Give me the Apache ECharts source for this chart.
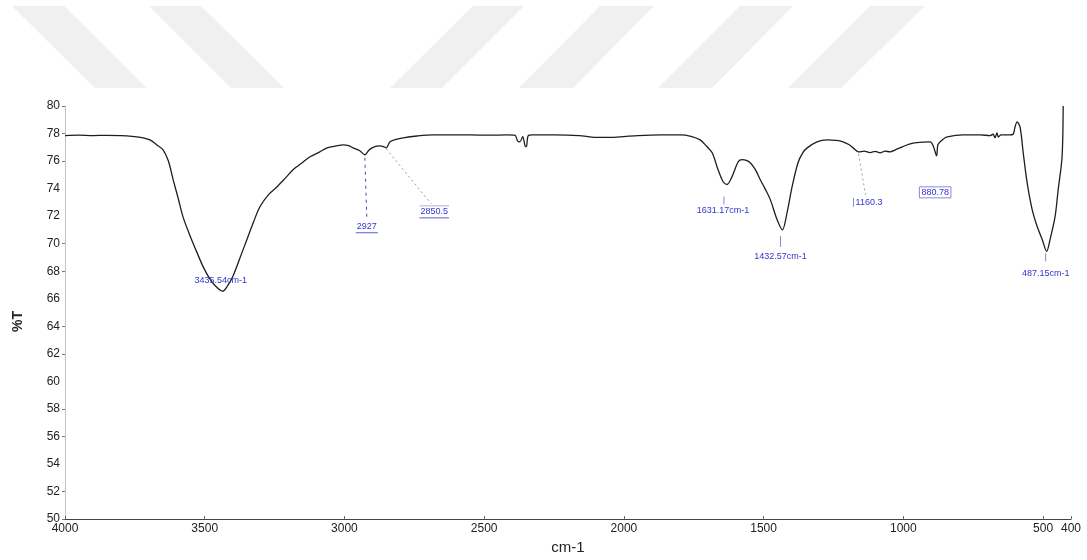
<!DOCTYPE html>
<html>
<head>
<meta charset="utf-8">
<script src="https://cdn.jsdelivr.net/npm/echarts@6/dist/echarts.min.js"></script>
<style>
  html, body { margin: 0; padding: 0; background: #fff; }
  #chart { width: 1087px; height: 560px; }
</style>
</head>
<body>
<div id="chart"></div>
<script>
// FT-IR spectrum: wavenumber (cm-1) vs transmittance (%T)
const wavenumbers = [
  4000, 3950, 3900, 3850, 3800, 3760, 3730, 3696, 3670, 3649, 3630, 3613, 3595, 3578, 3553,
  3528, 3505, 3481, 3458, 3435.54, 3418, 3399, 3375, 3349, 3325, 3302, 3270, 3241, 3210, 3184,
  3150, 3123, 3090, 3062, 3030, 3005, 2985, 2969, 2945, 2927, 2912, 2901, 2885, 2873, 2860,
  2850.5, 2837, 2815, 2790, 2740, 2683, 2600, 2550, 2480, 2420, 2390, 2380, 2372, 2362, 2352,
  2348, 2343, 2329, 2250, 2160, 2100, 2050, 2000, 1950, 1870, 1799, 1760, 1727, 1705, 1684,
  1663, 1645, 1631.17, 1613, 1591, 1577, 1562, 1548, 1530, 1512, 1495, 1476, 1452, 1432.57, 1416,
  1398, 1377, 1360, 1344, 1309, 1273, 1240, 1216, 1195, 1180, 1160.3, 1140, 1119, 1100, 1083,
  1065, 1047, 1030, 1012, 990, 965, 930, 904, 893, 880.78, 876, 860, 843, 786, 725,
  690, 679, 672, 665, 660, 650, 620, 607, 600, 593, 582, 571, 557, 539, 521,
  503, 487.15, 475, 457, 446, 432, 428
];
const transmittance = [
  77.85, 77.88, 77.85, 77.87, 77.85, 77.8, 77.72, 77.54, 77.15, 76.82, 76.0, 74.65, 73.3, 71.97, 70.6,
  69.37, 68.3, 67.42, 66.85, 66.55, 66.95, 67.64, 68.9, 70.31, 71.6, 72.7, 73.6, 74.14, 74.8, 75.37,
  75.9, 76.31, 76.65, 76.96, 77.1, 77.18, 77.12, 76.96, 76.75, 76.46, 76.8, 76.96, 77.08, 77.1, 77.05,
  76.96, 77.4, 77.58, 77.69, 77.82, 77.9, 77.9, 77.9, 77.88, 77.9, 77.88, 77.45, 77.4, 77.78, 77.05,
  77.1, 77.82, 77.9, 77.9, 77.85, 77.72, 77.72, 77.78, 77.85, 77.9, 77.9, 77.8, 77.54, 77.1, 76.6,
  75.37, 74.5, 74.3, 74.87, 75.95, 76.1, 76.05, 75.88, 75.4, 74.65, 74.0, 73.2, 71.76, 71.0, 72.26,
  74.14, 75.88, 76.6, 76.96, 77.4, 77.54, 77.5, 77.4, 77.2, 76.96, 76.67, 76.72, 76.62, 76.7, 76.6,
  76.72, 76.67, 76.8, 76.96, 77.15, 77.3, 77.38, 77.4, 77.1, 76.38, 77.2, 77.55, 77.75, 77.9, 77.9,
  77.85, 77.95, 77.7, 78.05, 77.75, 77.9, 77.9, 77.95, 78.5, 78.85, 78.45, 76.6, 74.43, 72.48, 71.25,
  70.31, 69.44, 70.3, 71.96, 73.9, 76.3, 80
];

// axis ticks
const xTickValues = [4000, 3500, 3000, 2500, 2000, 1500, 1000, 500, 400];
const yTickMarks = [50, 52, 56, 58, 62, 64, 68, 70, 76, 78, 80];

// labelled bands
const peakWavenumbers = [3435.54, 2927, 2850.5, 1631.17, 1432.57, 1160.3, 880.78, 487.15];
const peakLabels = ['3435.54cm-1', '2927', '2850.5', '1631.17cm-1', '1432.57cm-1', '1160.3', '880.78', '487.15cm-1'];

const spectrum = wavenumbers.map((w, i) => [w, transmittance[i]]);

const chart = echarts.init(document.getElementById('chart'), null, { renderer: 'canvas' });

const FONT = 'Liberation Sans, Arial, sans-serif';

chart.setOption({
  animation: false,
  backgroundColor: '#ffffff',
  grid: { left: 65, right: 16, top: 106, bottom: 39, containLabel: false },
  xAxis: {
    type: 'value',
    min: 400,
    max: 4000,
    inverse: true,
    name: 'cm-1',
    nameLocation: 'middle',
    nameGap: 19,
    nameTextStyle: { fontFamily: FONT, fontSize: 15, color: '#222' },
    axisLine: { lineStyle: { color: '#444', width: 1 } },
    axisTick: { inside: true, length: 3, lineStyle: { color: '#666' }, customValues: xTickValues },
    axisLabel: {
      fontFamily: FONT, fontSize: 12, color: '#222', margin: 4,
      customValues: xTickValues,
      formatter: v => String(v)
    },
    splitLine: { show: false }
  },
  yAxis: {
    type: 'value',
    min: 50,
    max: 80,
    interval: 2,
    name: '%T',
    nameLocation: 'middle',
    nameRotate: 90,
    nameGap: 40,
    nameTextStyle: {
      fontFamily: FONT, fontSize: 14, fontWeight: 'bold', color: '#222',
      padding: [0, 18, 0, 0]
    },
    axisLine: { show: true, lineStyle: { color: '#c4c4c4', width: 1 } },
    axisTick: { show: true, length: 3, lineStyle: { color: '#777' }, customValues: yTickMarks },
    axisLabel: { fontFamily: FONT, fontSize: 12, color: '#222', margin: 5 },
    splitLine: { show: false }
  },
  series: [{
    type: 'line',
    data: spectrum,
    symbol: 'none',
    smooth: 0.3,
    clip: true,
    lineStyle: { color: '#1e1e1e', width: 1.3 },
    z: 3
  }]
});

// band annotations, placed relative to each band's point on the curve
const BLUE = '#3434cc';
const TICK = '#8f86cf';
const DOT = '#9a9a9a';
const annotStyle = [
  { text: [-2, -11] },
  { line: [[0, 3], [2, 64]], lineColor: '#4646c8', dash: [3, 4], text: [2, 72], underline: true },
  { line: [[0, 1], [45, 56]], lineColor: DOT, dash: [2, 3], text: [48, 64], overline: true, underline: true },
  { line: [[-3, 12], [-3, 20]], lineColor: TICK, text: [-4, 26] },
  { line: [[-2, 6], [-2, 17]], lineColor: TICK, text: [-2, 27] },
  { line: [[0, 2], [7, 43]], lineColor: DOT, dash: [2, 3], bar: [[-5, 46], [-5, 55]], textLeft: [-3, 51] },
  { text: [-1.5, 37], box: true },
  { line: [[-1, 2], [-1, 10]], lineColor: TICK, text: [-1, 22] }
];

function drawAnnotations() {
  const graphics = [];

  // faint diagonal banding across the top margin
  const stripes = [
    [[12, 6], [64, 6], [147, 88], [95, 88]],
    [[149, 6], [201, 6], [284, 88], [231, 88]],
    [[473, 6], [524, 6], [442, 88], [390, 88]],
    [[600, 6], [654, 6], [573, 88], [519, 88]],
    [[740, 6], [793, 6], [712, 88], [658, 88]],
    [[870, 6], [925, 6], [841, 88], [788, 88]]
  ];
  stripes.forEach(pts => graphics.push({
    type: 'polygon', silent: true, z: -10,
    shape: { points: pts },
    style: { fill: '#f0f0f0' }
  }));

  peakWavenumbers.forEach((w, i) => {
    const idx = wavenumbers.indexOf(w);
    const p = chart.convertToPixel({ gridIndex: 0 }, [w, transmittance[idx]]);
    const s = annotStyle[i];
    if (s.line) {
      graphics.push({
        type: 'line', silent: true, z: 5,
        shape: { x1: p[0] + s.line[0][0], y1: p[1] + s.line[0][1], x2: p[0] + s.line[1][0], y2: p[1] + s.line[1][1] },
        style: { stroke: s.lineColor, lineWidth: 1, lineDash: s.dash || null }
      });
    }
    if (s.bar) {
      graphics.push({
        type: 'line', silent: true, z: 5,
        shape: { x1: p[0] + s.bar[0][0], y1: p[1] + s.bar[0][1], x2: p[0] + s.bar[1][0], y2: p[1] + s.bar[1][1] },
        style: { stroke: TICK, lineWidth: 1 }
      });
    }
    const fontSize = 9;
    const tw = echarts.format.getTextRect
      ? echarts.format.getTextRect(peakLabels[i], fontSize + 'px ' + FONT).width
      : peakLabels[i].length * 5;
    let cx, cy;
    if (s.textLeft) {
      cx = p[0] + s.textLeft[0] + tw / 2;
      cy = p[1] + s.textLeft[1];
    } else {
      cx = p[0] + s.text[0];
      cy = p[1] + s.text[1];
    }
    graphics.push({
      type: 'text', silent: true, z: 6,
      x: cx, y: cy,
      style: {
        text: peakLabels[i], fill: BLUE, font: fontSize + 'px ' + FONT,
        align: 'center', verticalAlign: 'middle'
      }
    });
    if (s.underline) {
      graphics.push({
        type: 'line', silent: true, z: 6,
        shape: { x1: cx - tw / 2 - 1, y1: cy + 6, x2: cx + tw / 2 + 1, y2: cy + 6 },
        style: { stroke: BLUE, lineWidth: 0.8 }
      });
    }
    if (s.overline) {
      graphics.push({
        type: 'line', silent: true, z: 6,
        shape: { x1: cx - tw / 2 - 1, y1: cy - 6, x2: cx + tw / 2 + 1, y2: cy - 6 },
        style: { stroke: '#9a9ad8', lineWidth: 0.8 }
      });
    }
    if (s.box) {
      graphics.push({
        type: 'rect', silent: true, z: 6,
        shape: { x: cx - tw / 2 - 2, y: cy - 6, width: tw + 4, height: 11 },
        style: { fill: 'none', stroke: '#6b6bd0', lineWidth: 0.8 }
      });
    }
  });

  chart.setOption({ graphic: graphics });
}

drawAnnotations();
</script>
</body>
</html>
